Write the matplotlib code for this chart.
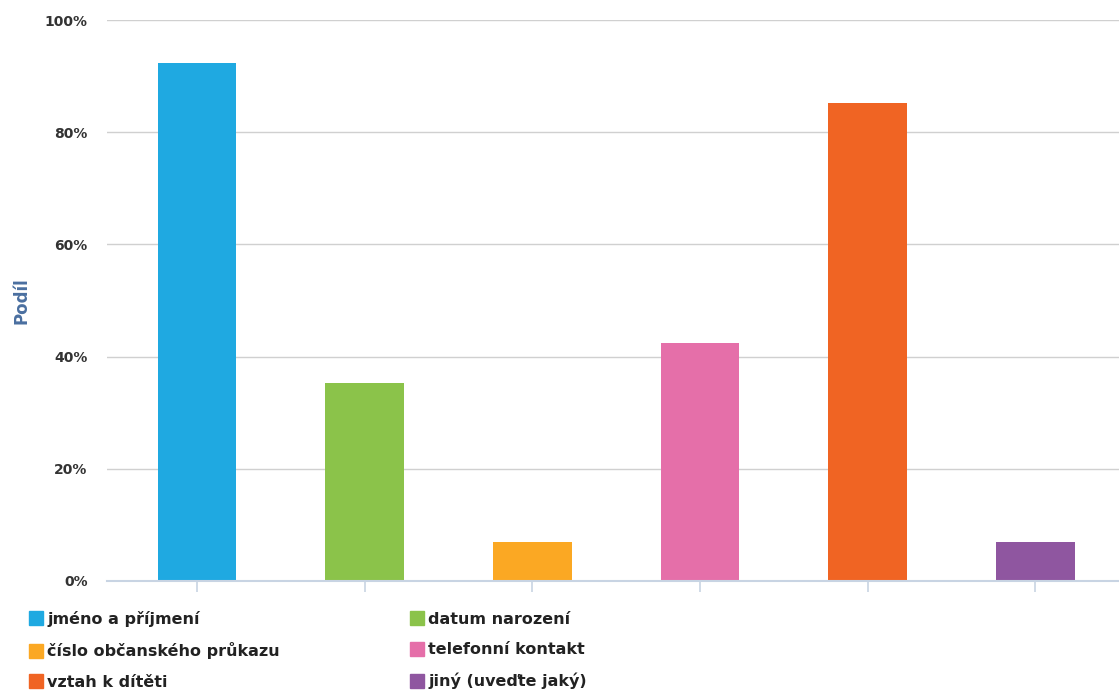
import matplotlib
matplotlib.use('Agg')
import matplotlib.pyplot as plt
from matplotlib.lines import Line2D
from matplotlib.ticker import FuncFormatter

# data
categories = ['jméno a příjmení', 'datum narození', 'číslo občanského průkazu',
              'telefonní kontakt', 'vztah k dítěti', 'jiný (uveďte jaký)']
values = [92.3, 35.3, 7.0, 42.4, 85.2, 7.0]
colors = ['#1fa9e1', '#8bc34a', '#fba823', '#e56fa9', '#f06423', '#8f56a0']

plt.rcParams['font.family'] = ['DejaVu Sans']
plt.rcParams['font.weight'] = 'bold'

fig = plt.figure(figsize=(11.19, 6.93), dpi=100)
ax = fig.add_axes([107 / 1119, 1 - 581 / 693, 1012 / 1119, 561 / 693])

x = list(range(len(categories)))
ax.bar(x, values, width=0.47, color=colors, zorder=3)

ax.set_ylim(0, 100)
ax.set_xlim(-0.537, 5.50)
ax.set_yticks([0, 20, 40, 60, 80, 100])
ax.yaxis.set_major_formatter(FuncFormatter(lambda v, p: '%d%%' % v))
ax.set_xticks(x)
ax.set_xticklabels([])
ax.tick_params(axis='x', length=8, color='#c8d4e3', width=1.2)
ax.tick_params(axis='y', length=0, pad=14, labelsize=10, labelcolor='#333333')
ax.grid(axis='y', color='#d0d0d0', linewidth=1, zorder=0)
for s in ['top', 'right', 'left']:
    ax.spines[s].set_visible(False)
ax.spines['bottom'].set_color('#c8d4e3')
ax.spines['bottom'].set_linewidth(1.5)
ax.spines['bottom'].set_zorder(4)

ax.set_ylabel('Podíl', color='#4a6fa0', fontsize=12, fontweight='bold')
ax.yaxis.set_label_coords(-0.076, 0.5)

handles = [Line2D([], [], marker='s', linestyle='none', markersize=10,
                  markerfacecolor=c, markeredgecolor=c) for c in colors]
order = [0, 2, 4, 1, 3, 5]
leg = fig.legend([handles[i] for i in order], [categories[i] for i in order],
                 ncol=2, loc='upper left', bbox_to_anchor=(0.025, 0.119),
                 frameon=False, fontsize=11.5, handletextpad=0.2,
                 columnspacing=8.1, labelspacing=0.98, handlelength=1.0,
                 borderpad=0, borderaxespad=0)
for t in leg.get_texts():
    t.set_color('#222222')

fig.savefig('out.png', dpi=100)
